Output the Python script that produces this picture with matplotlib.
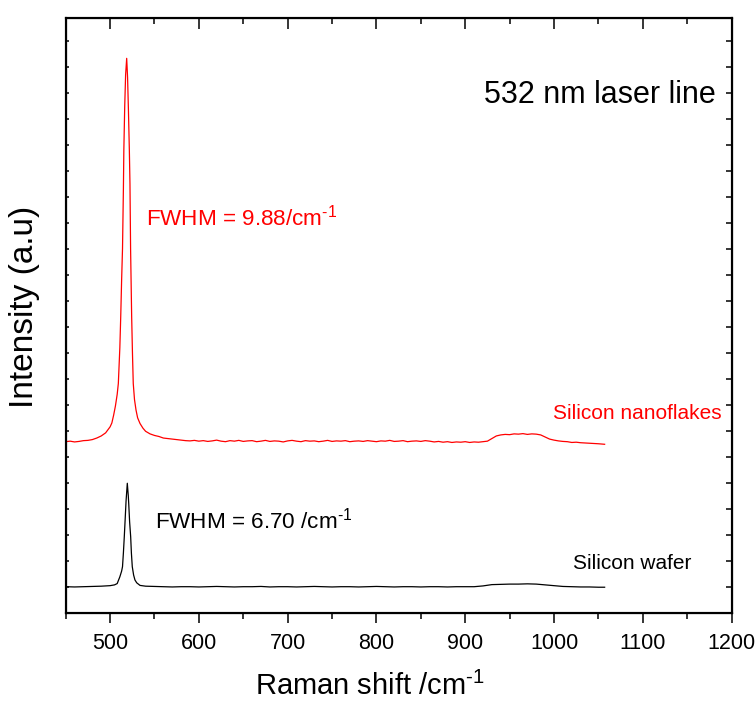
import numpy as np
import matplotlib
matplotlib.use("Agg")
import matplotlib.pyplot as plt
from matplotlib.ticker import MultipleLocator

plt.rcParams['font.family'] = ['Liberation Sans', 'DejaVu Sans']
plt.rcParams['mathtext.fontset'] = 'custom'
plt.rcParams['mathtext.rm'] = 'Liberation Sans'
plt.rcParams['mathtext.it'] = 'Liberation Sans'
plt.rcParams['mathtext.bf'] = 'Liberation Sans'

# silicon wafer (black) spectrum, Raman shift in cm-1, intensity in a.u. (offset)
wafer_peak_x = [450, 460, 470, 480, 490, 500, 505, 508, 511, 513, 514, 515, 516, 517, 518,
                519.4, 520.5, 521, 522, 523.2, 524, 525, 526.5, 528, 530, 533.7]
wafer_peak_y = [1.00, 0.99, 1.00, 1.01, 1.02, 1.04, 1.07, 1.12, 1.38, 1.60, 1.77, 2.30, 2.92, 3.60, 4.30,
                4.98, 4.50, 4.20, 3.50, 2.92, 2.30, 1.77, 1.45, 1.26, 1.15, 1.05]
wafer_base_x = np.arange(540, 1051, 10)
wafer_base_y = [1.02, 1.01, 1.00, 0.99, 1.00, 1.00, 0.99, 1.00, 1.01, 1.00, 0.99, 1.00,
                1.00, 1.01, 0.99, 1.00, 1.00, 0.99, 1.00, 1.01, 1.00, 0.99, 1.00, 1.00,
                0.99, 1.00, 1.01, 1.00, 0.99, 1.00, 1.00, 0.99, 1.00, 1.00, 0.99, 1.00,
                1.00, 1.00, 1.03, 1.08, 1.09, 1.10, 1.10, 1.11, 1.10, 1.07, 1.04, 1.01,
                1.00, 0.99, 0.99, 0.98]
wafer_end_x = [1057]
wafer_end_y = [0.98]

# silicon nanoflakes (red) spectrum
flake_peak_x = [450, 455, 460, 465, 470, 475, 480, 485, 490, 495, 500, 502, 504, 506, 508, 509.3,
                511, 512, 513, 514, 515, 515.5, 516.5, 517.5, 518.7, 519.7, 520.7, 521.7, 522.4,
                523.1, 524.3, 525.2, 526.1, 527.5, 529.2, 531, 533.7, 537, 540, 545, 550, 555,
                560, 565, 570, 575, 580, 585]
flake_peak_y = [6.58, 6.60, 6.57, 6.59, 6.62, 6.63, 6.66, 6.72, 6.80, 6.92, 7.15, 7.30, 7.60, 7.95, 8.40, 8.82,
                10.2, 11.4, 12.8, 14.0, 16.3, 17.8, 19.5, 20.7, 21.33, 20.6, 19.3, 17.8, 16.5,
                14.0, 11.4, 10.0, 8.82, 8.20, 7.80, 7.50, 7.28, 7.10, 6.98, 6.88, 6.82, 6.78,
                6.72, 6.70, 6.68, 6.66, 6.64, 6.62]
flake_base_x = np.arange(590, 1051, 5)
flake_base_y = [6.61, 6.63, 6.60, 6.62, 6.59, 6.61, 6.64, 6.60, 6.58, 6.62, 6.60, 6.63,
                6.59, 6.61, 6.62, 6.58, 6.60, 6.63, 6.59, 6.61, 6.60, 6.57, 6.61, 6.63,
                6.60, 6.58, 6.62, 6.60, 6.61, 6.58, 6.60, 6.63, 6.59, 6.61, 6.60, 6.62,
                6.58, 6.60, 6.61, 6.59, 6.62, 6.60, 6.58, 6.61, 6.60, 6.63, 6.59, 6.60,
                6.62, 6.58, 6.60, 6.61, 6.59, 6.62, 6.60, 6.57, 6.59, 6.56, 6.58, 6.55,
                6.57, 6.56, 6.58, 6.55, 6.57, 6.56, 6.58, 6.60, 6.70, 6.80, 6.84, 6.86,
                6.85, 6.88, 6.87, 6.89, 6.86, 6.88, 6.87, 6.84, 6.76, 6.68, 6.64, 6.61,
                6.59, 6.58, 6.55, 6.56, 6.54, 6.53, 6.52, 6.51, 6.50]
flake_end_x = [1057]
flake_end_y = [6.48]

wafer_x = np.concatenate([wafer_peak_x, wafer_base_x, wafer_end_x])
wafer_y = np.concatenate([wafer_peak_y, wafer_base_y, wafer_end_y])
flake_x = np.concatenate([flake_peak_x, flake_base_x, flake_end_x])
flake_y = np.concatenate([flake_peak_y, flake_base_y, flake_end_y])

# superscript "-1" drawn with a plain hyphen
SUP = "$^{\\mathregular{\u20101}}$"

fig = plt.figure(figsize=(7.55, 7.04), dpi=100, facecolor="white")
ax = fig.add_axes([0.087, 0.1297, 0.882, 0.8454])

ax.plot(wafer_x, wafer_y, color="black", linewidth=0.9)
ax.plot(flake_x, flake_y, color="#ff0000", linewidth=0.9)

ax.set_xlim(450, 1200)
ax.set_ylim(0, 22.9)

for s in ax.spines.values():
    s.set_linewidth(1.5)

ax.xaxis.set_major_locator(MultipleLocator(100))
ax.xaxis.set_minor_locator(MultipleLocator(50))
ax.tick_params(axis="x", which="major", direction="out", length=7.5, width=1.1, labelsize=15.5, pad=7)
ax.tick_params(axis="x", which="minor", direction="out", length=4, width=1.1)
ax.yaxis.set_major_locator(MultipleLocator(1))
ax.tick_params(axis="y", which="major", direction="in", length=1.8, width=1.1, labelleft=False)

# top axis: inward ticks, no labels
axt = ax.twiny()
axt.set_xlim(ax.get_xlim())
axt.xaxis.set_major_locator(MultipleLocator(100))
axt.xaxis.set_minor_locator(MultipleLocator(50))
axt.tick_params(axis="x", which="major", direction="in", length=8, width=1.1, labeltop=False)
axt.tick_params(axis="x", which="minor", direction="in", length=4.5, width=1.1)
for s in axt.spines.values():
    s.set_linewidth(1.5)

# right axis: inward ticks, no labels
axr = ax.twinx()
axr.set_ylim(ax.get_ylim())
axr.yaxis.set_major_locator(MultipleLocator(1))
axr.tick_params(axis="y", which="major", direction="in", length=4.5, width=1.1, labelright=False)

ax.text(1182, 19.9, "532 nm laser line", fontsize=22, ha="right", va="center")
ax.text(540.4, 15.2, "FWHM = 9.88/cm" + SUP, fontsize=16.2, color="#ff0000", va="center")
ax.text(1189, 7.68, "Silicon nanoflakes", fontsize=15, color="#ff0000", ha="right", va="center")
ax.text(550.6, 3.56, "FWHM = 6.70 /cm" + SUP, fontsize=16.2, color="black", va="center")
ax.text(1155, 1.91, "Silicon wafer", fontsize=15, color="black", ha="right", va="center")

fig.text(370 / 755, 1 - 686 / 704, "Raman shift /cm" + SUP, fontsize=21, ha="center", va="center")
fig.text(25 / 755, 1 - 307 / 704, "Intensity (a.u)", fontsize=24, rotation=90, ha="center", va="center")

fig.savefig("out.png", dpi=100, facecolor="white")
